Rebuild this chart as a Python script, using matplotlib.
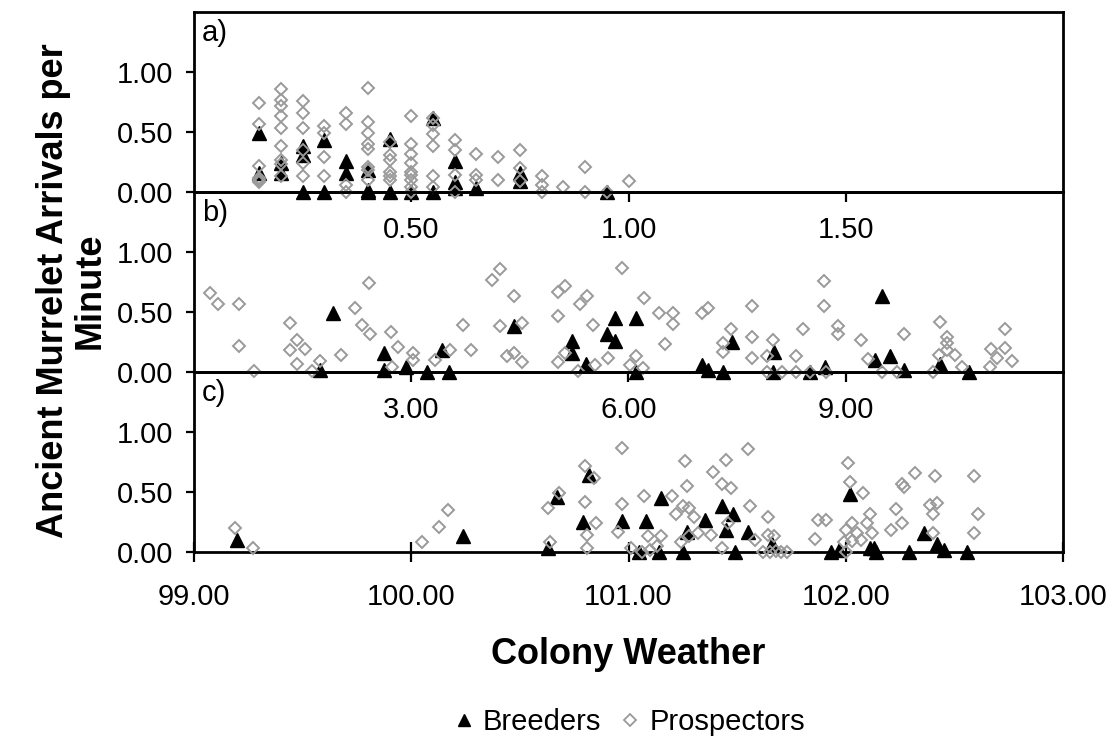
import matplotlib
matplotlib.use("Agg")
import matplotlib.pyplot as plt
from matplotlib.lines import Line2D

plt.rcParams['font.family'] = ['Liberation Sans', 'DejaVu Sans']

# ---- panel a) ----
a_breed_x = [0.15, 0.15, 0.20, 0.20, 0.25, 0.25, 0.25, 0.30, 0.30, 0.35, 0.35,
             0.40, 0.40, 0.40, 0.45, 0.45, 0.50, 0.55, 0.55, 0.60, 0.60, 0.60,
             0.65, 0.75, 0.75, 0.95]
a_breed_y = [0.49, 0.16, 0.24, 0.16, 0.38, 0.31, 0.00, 0.43, 0.00, 0.26, 0.16,
             0.18, 0.02, 0.00, 0.44, 0.00, 0.00, 0.62, 0.00, 0.26, 0.08, 0.03,
             0.03, 0.16, 0.09, 0.00]
a_prosp_x = [0.15, 0.15, 0.15, 0.15, 0.15, 0.15,
             0.20, 0.20, 0.20, 0.20, 0.20, 0.20, 0.20, 0.20, 0.20,
             0.25, 0.25, 0.25, 0.25, 0.25, 0.25,
             0.30, 0.30, 0.30, 0.30,
             0.35, 0.35, 0.35, 0.35,
             0.40, 0.40, 0.40, 0.40, 0.40, 0.40, 0.40, 0.40,
             0.45, 0.45, 0.45, 0.45, 0.45, 0.45,
             0.50, 0.50, 0.50, 0.50, 0.50, 0.50, 0.50, 0.50, 0.50,
             0.55, 0.55, 0.55, 0.55, 0.55, 0.55,
             0.60, 0.60, 0.60, 0.60,
             0.65, 0.65, 0.65,
             0.70, 0.70,
             0.75, 0.75, 0.75,
             0.80, 0.80, 0.80,
             0.85,
             0.90, 0.90,
             0.95,
             1.00]
a_prosp_y = [0.74, 0.57, 0.22, 0.12, 0.10, 0.08,
             0.86, 0.77, 0.72, 0.63, 0.53, 0.38, 0.27, 0.23, 0.13,
             0.76, 0.66, 0.53, 0.35, 0.24, 0.13,
             0.55, 0.49, 0.29, 0.13,
             0.66, 0.57, 0.06, 0.00,
             0.87, 0.58, 0.49, 0.40, 0.36, 0.21, 0.18, 0.10,
             0.42, 0.31, 0.27, 0.17, 0.13, 0.10,
             0.63, 0.40, 0.32, 0.24, 0.17, 0.14, 0.10, 0.04, 0.00,
             0.62, 0.56, 0.48, 0.38, 0.13, 0.04,
             0.43, 0.35, 0.14, 0.00,
             0.32, 0.14, 0.10,
             0.29, 0.10,
             0.35, 0.20, 0.09,
             0.13, 0.06, 0.00,
             0.04,
             0.21, 0.00,
             0.00,
             0.09]

# ---- panel b) ----
b_breed_x = [1.74, 1.92, 2.62, 2.62, 2.93, 3.22, 3.42, 3.52, 4.42, 5.22, 5.22,
             5.41, 5.70, 5.81, 5.81, 6.11, 6.11, 7.01, 7.10, 7.30, 7.43, 8.01,
             8.00, 8.51, 8.71, 9.50, 9.40, 9.61, 9.80, 10.30, 10.70]
b_breed_y = [0.02, 0.49, 0.16, 0.02, 0.04, 0.00, 0.18, 0.00, 0.38, 0.26, 0.16,
             0.07, 0.32, 0.45, 0.26, 0.45, 0.00, 0.06, 0.02, 0.00, 0.25, 0.17,
             0.00, 0.00, 0.04, 0.63, 0.10, 0.13, 0.02, 0.07, 0.00]
b_prosp_x = [0.22, 0.33, 0.62, 0.62, 0.83, 1.33, 1.42, 1.33, 1.53, 1.42, 1.63,
             1.74, 2.03, 2.22, 2.42, 2.32, 2.43, 2.72, 2.82, 2.73, 3.02, 3.02,
             3.33, 3.54, 3.72, 3.83, 4.12, 4.22, 4.22, 4.42, 4.53, 4.32, 4.42,
             4.53, 5.03, 5.13, 5.03, 5.13, 5.03, 5.33, 5.43, 5.30, 5.51, 5.54,
             5.72, 5.91, 6.21, 6.42, 6.61, 6.61, 6.51, 6.11, 6.02, 6.20, 7.01,
             7.10, 7.42, 7.30, 7.30, 7.71, 7.71, 7.71, 8.00, 7.91, 7.91, 8.12,
             8.31, 8.31, 8.41, 8.51, 8.70, 8.70, 8.89, 8.89, 8.73, 9.21, 9.31,
             9.50, 9.71, 9.80, 10.30, 10.40, 10.40, 10.40, 10.29, 10.51, 10.21,
             10.61, 11.20, 11.00, 11.20, 11.09, 11.30, 10.99]
b_prosp_y = [0.66, 0.57, 0.57, 0.22, 0.01, 0.41, 0.27, 0.18, 0.19, 0.07, 0.01,
             0.09, 0.14, 0.53, 0.74, 0.39, 0.32, 0.33, 0.21, 0.04, 0.16, 0.10,
             0.10, 0.18, 0.39, 0.18, 0.77, 0.86, 0.38, 0.63, 0.41, 0.13, 0.16,
             0.08, 0.67, 0.72, 0.47, 0.16, 0.08, 0.57, 0.63, 0.01, 0.39, 0.06,
             0.12, 0.87, 0.62, 0.49, 0.49, 0.40, 0.23, 0.13, 0.06, 0.03, 0.49,
             0.53, 0.36, 0.24, 0.17, 0.55, 0.29, 0.12, 0.27, 0.13, 0.00, 0.00,
             0.13, 0.00, 0.36, 0.00, 0.76, 0.55, 0.38, 0.32, 0.00, 0.27, 0.11,
             0.00, 0.00, 0.32, 0.42, 0.29, 0.24, 0.18, 0.14, 0.14, 0.00,
             0.04, 0.36, 0.19, 0.20, 0.12, 0.09, 0.04]

# ---- panel c) ----
c_breed_x = [99.20, 100.24, 100.67, 100.63, 100.82, 100.79, 100.97, 101.08,
             101.15, 101.27, 101.25, 101.35, 101.43, 101.48, 101.45, 101.49,
             101.55, 101.66, 101.93, 101.97, 102.02, 102.11, 102.13, 102.14,
             102.29, 102.36, 102.42, 102.45, 102.56, 101.05, 101.14]
c_breed_y = [0.10, 0.13, 0.46, 0.03, 0.64, 0.25, 0.26, 0.26,
             0.45, 0.17, 0.00, 0.27, 0.38, 0.32, 0.18, 0.00,
             0.17, 0.07, 0.00, 0.02, 0.48, 0.03, 0.03, 0.00,
             0.00, 0.16, 0.07, 0.02, 0.00, 0.00, 0.00]
c_prosp_x = [99.19, 99.27, 100.05, 100.13, 100.17, 100.63, 100.68, 100.64,
             100.80, 100.84, 100.80, 100.85, 100.81, 100.81, 100.97, 100.97,
             100.95, 101.07, 101.01, 101.06, 101.10, 101.13, 101.09, 101.15,
             101.20, 101.26, 101.27, 101.22, 101.25, 101.28, 101.30, 101.24,
             101.28, 101.32, 101.38, 101.39, 101.45, 101.43, 101.47, 101.46,
             101.43, 101.55, 101.56, 101.64, 101.58, 101.64, 101.67, 101.62,
             101.65, 101.68, 101.70, 101.73, 101.87, 101.91, 101.86, 102.01,
             102.02, 102.08, 102.11, 102.03, 102.10, 102.00, 102.05, 102.12,
             101.99, 102.03, 102.07, 102.00, 102.23, 102.26, 102.21, 102.26,
             102.27, 102.32, 102.41, 102.39, 102.42, 102.40, 102.40, 102.59,
             102.61, 102.59]
c_prosp_y = [0.20, 0.03, 0.08, 0.21, 0.35, 0.37, 0.49, 0.08,
             0.72, 0.62, 0.42, 0.24, 0.14, 0.03, 0.87, 0.40,
             0.17, 0.47, 0.03, 0.00, 0.02, 0.05, 0.13, 0.13,
             0.47, 0.76, 0.55, 0.32, 0.38, 0.37, 0.29, 0.08,
             0.13, 0.16, 0.14, 0.67, 0.77, 0.57, 0.53, 0.24,
             0.03, 0.86, 0.38, 0.29, 0.10, 0.14, 0.13, 0.00,
             0.00, 0.01, 0.00, 0.00, 0.27, 0.27, 0.11, 0.74,
             0.58, 0.49, 0.32, 0.24, 0.24, 0.18, 0.16, 0.16,
             0.08, 0.09, 0.10, 0.00, 0.36, 0.24, 0.18, 0.57,
             0.54, 0.66, 0.63, 0.39, 0.41, 0.32, 0.16, 0.63,
             0.32, 0.16]

panel_labels = ['a)', 'b)', 'c)']
x_limits = [(0.0, 2.0), (0.0, 12.0), (99.0, 103.0)]
x_ticks = [[0.5, 1.0, 1.5], [3.0, 6.0, 9.0], [99.0, 100.0, 101.0, 102.0, 103.0]]
y_ticks = [0.0, 0.5, 1.0]
breeders = [(a_breed_x, a_breed_y), (b_breed_x, b_breed_y), (c_breed_x, c_breed_y)]
prospectors = [(a_prosp_x, a_prosp_y), (b_prosp_x, b_prosp_y), (c_prosp_x, c_prosp_y)]

W, H = 1117, 742
fig = plt.figure(figsize=(W / 100, H / 100), dpi=100)
fig.patch.set_facecolor('white')

left_px, right_px = 194, 1063
panel_tops = [12, 192, 372]
panel_h = 180

tri_style = dict(linestyle='none', marker='^', ms=9.5, color='black',
                 mec='black', clip_on=False, zorder=3)
dia_style = dict(linestyle='none', marker='D', ms=6.3, mfc='none',
                 mec='#9a9a9a', mew=1.4, clip_on=False, zorder=4)

for i, top in enumerate(panel_tops):
    ax = fig.add_axes([left_px / W, 1 - (top + panel_h) / H,
                       (right_px - left_px) / W, panel_h / H])
    ax.patch.set_alpha(0)
    bx, by = breeders[i]
    px, py = prospectors[i]
    ax.plot(bx, by, **tri_style)
    ax.plot(px, py, **dia_style)

    ax.set_xlim(*x_limits[i])
    ax.set_ylim(0, 1.5)
    ax.set_xticks(x_ticks[i])
    ax.set_yticks(y_ticks)
    ax.xaxis.set_major_formatter(matplotlib.ticker.FormatStrFormatter('%.2f'))
    ax.yaxis.set_major_formatter(matplotlib.ticker.FormatStrFormatter('%.2f'))
    for sp in ax.spines.values():
        sp.set_linewidth(2.0)
        sp.set_zorder(2)
    ax.tick_params(axis='y', direction='out', length=6, width=1.6,
                   labelsize=21, pad=9)
    if i < 2:
        ax.tick_params(axis='x', direction='out', length=7, width=1.6,
                       labelsize=21, pad=10)
    else:
        ax.tick_params(axis='x', direction='inout', length=14, width=1.6,
                       labelsize=21, pad=15)
    ax.text(0.009, 1 - 29 / panel_h, panel_labels[i], transform=ax.transAxes,
            fontsize=21, va='baseline', ha='left')

fig.text(72 / W, 1 - 291 / H, 'Ancient Murrelet Arrivals per\nMinute',
         rotation=90, ha='center', va='center', fontsize=26,
         fontweight='bold', linespacing=1.05)
fig.text(628 / W, 1 - 655 / H, 'Colony Weather', ha='center', va='center',
         fontsize=26, fontweight='bold')

handles = [Line2D([], [], linestyle='none', marker='^', ms=9, color='black'),
           Line2D([], [], linestyle='none', marker='D', ms=6, mfc='none',
                  mec='#9a9a9a', mew=1.3)]
fig.legend(handles, ['Breeders', 'Prospectors'], loc='center',
           bbox_to_anchor=(630 / W, 1 - 722 / H), ncol=2, frameon=False,
           fontsize=21, handlelength=0.6, handletextpad=0.35,
           columnspacing=0.7, borderpad=0)

fig.savefig('out.png', dpi=100)
